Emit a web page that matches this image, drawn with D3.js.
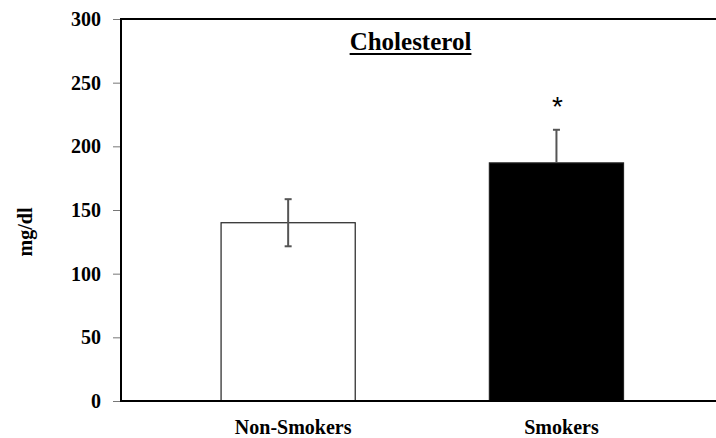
<!DOCTYPE html>
<html>
<head>
<meta charset="utf-8">
<script src="https://cdn.jsdelivr.net/npm/d3@7"></script>
<style>
  html, body { margin: 0; padding: 0; background: #fff; }
  svg { display: block; }
</style>
</head>
<body>
<div id="chart"></div>
<script>
const categories = ["Non-Smokers", "Smokers"];
const values = [140, 187];
const errors = [18.5, 26];
const significance = ["", "*"];
const yTicks = [0, 50, 100, 150, 200, 250, 300];
const title = "Cholesterol";
const yLabel = "mg/dl";

const W = 716, H = 438;
const svg = d3.select("#chart").append("svg").attr("width", W).attr("height", H);

const plotLeft = 121, plotRight = 716, plotTop = 19, plotBottom = 401;

const y = d3.scaleLinear().domain([0, 300]).range([plotBottom, plotTop]);
const x = d3.scaleBand().domain(categories).range([154, 690.6]).paddingInner(0.5).paddingOuter(0.25);

const serif = "Liberation Serif";

// top border
svg.append("line").attr("x1", plotLeft).attr("x2", plotRight)
  .attr("y1", y(300)).attr("y2", y(300))
  .attr("stroke", "#000").attr("stroke-width", 2);

// bars
svg.selectAll("rect.bar").data(categories).enter().append("rect")
  .attr("class", "bar")
  .attr("x", d => x(d))
  .attr("width", x.bandwidth())
  .attr("y", (d, i) => y(values[i]))
  .attr("height", (d, i) => y(0) - y(values[i]))
  .attr("fill", (d, i) => i === 0 ? "#fff" : "#000")
  .attr("stroke", "#222").attr("stroke-width", 1.2);

// error bars
const cap = 3.5;
categories.forEach((c, i) => {
  const cx = x(c) + x.bandwidth() / 2;
  const hi = y(values[i] + errors[i]);
  const lo = y(values[i] - errors[i]);
  const g = svg.append("g").attr("stroke", "#555").attr("stroke-width", 2);
  g.append("line").attr("x1", cx).attr("x2", cx).attr("y1", hi).attr("y2", i === 0 ? lo : y(values[i]));
  g.append("line").attr("x1", cx - cap).attr("x2", cx + cap).attr("y1", hi).attr("y2", hi);
  if (i === 0) g.append("line").attr("x1", cx - cap).attr("x2", cx + cap).attr("y1", lo).attr("y2", lo);
  if (significance[i]) {
    svg.append("text").attr("x", cx + 1).attr("y", y(values[i] + errors[i]) - 14)
      .attr("text-anchor", "middle")
      .style("font-family", "Liberation Sans")
      .attr("font-size", 28).attr("fill", "#000")
      .text(significance[i]);
  }
});

// y axis
const yAxis = svg.append("g").attr("transform", `translate(${plotLeft},0)`)
  .call(d3.axisLeft(y).tickValues(yTicks).tickSize(8).tickPadding(12));
yAxis.select(".domain").remove();
yAxis.selectAll(".tick line").attr("stroke", "#777").attr("stroke-width", 1);
yAxis.selectAll(".tick text").style("font-family", serif).style("font-weight", "bold")
  .style("font-size", "20px").attr("fill", "#000");
svg.append("line").attr("x1", plotLeft).attr("x2", plotLeft)
  .attr("y1", plotTop - 1).attr("y2", plotBottom + 1)
  .attr("stroke", "#000").attr("stroke-width", 2);

// x axis
const xAxis = svg.append("g").attr("transform", `translate(0,${plotBottom})`)
  .call(d3.axisBottom(x).tickSize(0).tickPadding(19));
xAxis.select(".domain").remove();
xAxis.selectAll(".tick text").style("font-family", serif).style("font-weight", "bold")
  .style("font-size", "20px").attr("fill", "#000").attr("dx", 5);
svg.append("line").attr("x1", plotLeft - 1).attr("x2", plotRight)
  .attr("y1", plotBottom).attr("y2", plotBottom)
  .attr("stroke", "#000").attr("stroke-width", 2);

// title
const t = svg.append("text").attr("x", 410.5).attr("y", 50)
  .attr("text-anchor", "middle").style("font-family", serif).style("font-weight", "bold")
  .style("font-size", "25px").attr("fill", "#000").text(title);
const bb = t.node().getBBox();
svg.append("line").attr("x1", bb.x).attr("x2", bb.x + bb.width)
  .attr("y1", 54).attr("y2", 54).attr("stroke", "#000").attr("stroke-width", 2);

// y label
svg.append("text").attr("transform", "translate(32,232) rotate(-90)")
  .attr("text-anchor", "middle").style("font-family", serif).style("font-weight", "bold")
  .style("font-size", "20px").attr("fill", "#000").text(yLabel);
</script>
</body>
</html>
